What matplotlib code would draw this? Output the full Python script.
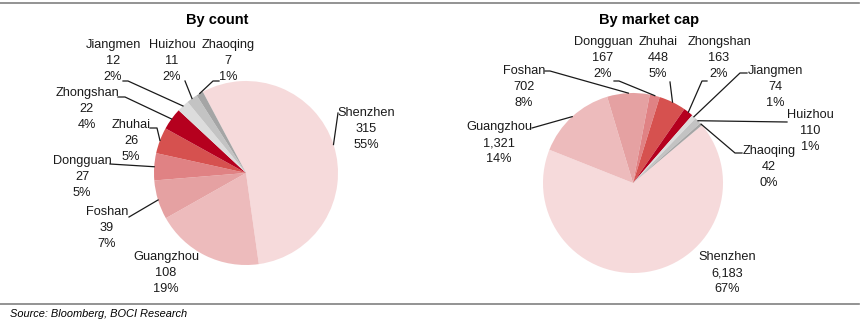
import matplotlib
matplotlib.use('Agg')
import matplotlib.pyplot as plt
import numpy as np

plt.rcParams['font.family'] = ['Liberation Sans', 'DejaVu Sans']

# Cities and values for the two pies
ciudades = ['Shenzhen', 'Guangzhou', 'Foshan', 'Dongguan', 'Zhuhai',
            'Zhongshan', 'Jiangmen', 'Huizhou', 'Zhaoqing']
numEmpresas = [315, 108, 39, 27, 26, 22, 12, 11, 7]
pctEmpresas = ['55%', '19%', '7%', '5%', '5%', '4%', '2%', '2%', '1%']
capMercado = [6183, 1321, 702, 167, 448, 163, 74, 110, 42]
pctCapMercado = ['67%', '14%', '8%', '2%', '5%', '2%', '1%', '1%', '0%']

colores = ['#F6DADB', '#EDBBBC', '#E5A1A2', '#E08284', '#D6514F',
           '#B5001E', '#DCDCDC', '#C3C3C3', '#A5A5A5']

W, H = 864, 320


def Y(y):
    # pixel rows are counted from the top
    return H - y


fig = plt.figure(figsize=(W / 100, H / 100), dpi=100)
ax = fig.add_axes([0, 0, 1, 1])

# Label layout: text centre (x, y of middle line) and leader points before the pie edge
layoutCount = {
    'Shenzhen': ((366, 129), [(338, 113)]),
    'Guangzhou': ((166, 273), None),
    'Foshan': ((107, 228), [(129, 217)]),
    'Dongguan': ((82, 177), [(110, 164)]),
    'Zhuhai': ((131, 141), [(150, 128), (157, 128)]),
    'Zhongshan': ((87, 109), [(118, 97), (125, 97)]),
    'Jiangmen': ((113, 61), [(123, 81), (128, 81)]),
    'Huizhou': ((172, 61), [(185, 81)]),
    'Zhaoqing': ((228, 61), [(219, 81), (213, 81)]),
}
layoutCap = {
    'Shenzhen': ((727, 273), None),
    'Guangzhou': ((499, 143), [(532, 128)]),
    'Foshan': ((524, 87), [(545, 71), (550, 71)]),
    'Dongguan': ((603, 58), [(614, 81), (619, 81)]),
    'Zhuhai': ((658, 58), [(670, 82)]),
    'Zhongshan': ((719, 58), [(707, 81), (702, 81)]),
    'Jiangmen': ((775, 87), [(747, 73), (740, 73)]),
    'Huizhou': ((810, 131), [(787, 122)]),
    'Zhaoqing': ((769, 167), [(742, 153), (735, 153)]),
}


def dibujarPie(valores, porcentajes, centro, radio, inicio, titulo, tituloX, layout):
    cx, cy = centro
    wedges, _ = ax.pie(valores, colors=colores, startangle=inicio, counterclock=False,
                       center=(cx, Y(cy)), radius=radio, frame=True,
                       wedgeprops=dict(linewidth=0))
    ax.text(tituloX, Y(20), titulo, ha='center', va='center', fontsize=10.5,
            fontweight='bold')
    for w, nombre, v, p in zip(wedges, ciudades, valores, porcentajes):
        (tx, ty), puntos = layout[nombre]
        ax.text(tx, Y(ty), f'{nombre}\n{v:,}\n{p}', ha='center', va='center',
                fontsize=9.2, linespacing=1.47, color='#1a1a1a')
        if puntos:
            medio = np.deg2rad((w.theta1 + w.theta2) / 2)
            borde = (cx + radio * np.cos(medio), Y(cy) + radio * np.sin(medio))
            xs = [px for px, _ in puntos] + [borde[0]]
            ys = [Y(py) for _, py in puntos] + [borde[1]]
            ax.plot(xs, ys, color='#1a1a1a', lw=0.9)


dibujarPie(numEmpresas, pctEmpresas, (246, 173), 92, 118, 'By count', 217, layoutCount)
dibujarPie(capMercado, pctCapMercado, (633, 183), 90, 40, 'By market cap', 649, layoutCap)

# Frame lines and source note
ax.plot([0, 859], [Y(3), Y(3)], color='#808080', lw=1.2)
ax.plot([0, 859], [Y(304), Y(304)], color='#808080', lw=1.2)
ax.text(10, Y(314), 'Source: Bloomberg, BOCI Research', ha='left', va='center',
        fontsize=7.9, style='italic')

ax.set_xlim(0, W)
ax.set_ylim(0, H)
ax.set_aspect('auto')
ax.axis('off')

plt.savefig('out.png', dpi=100)
plt.close()
